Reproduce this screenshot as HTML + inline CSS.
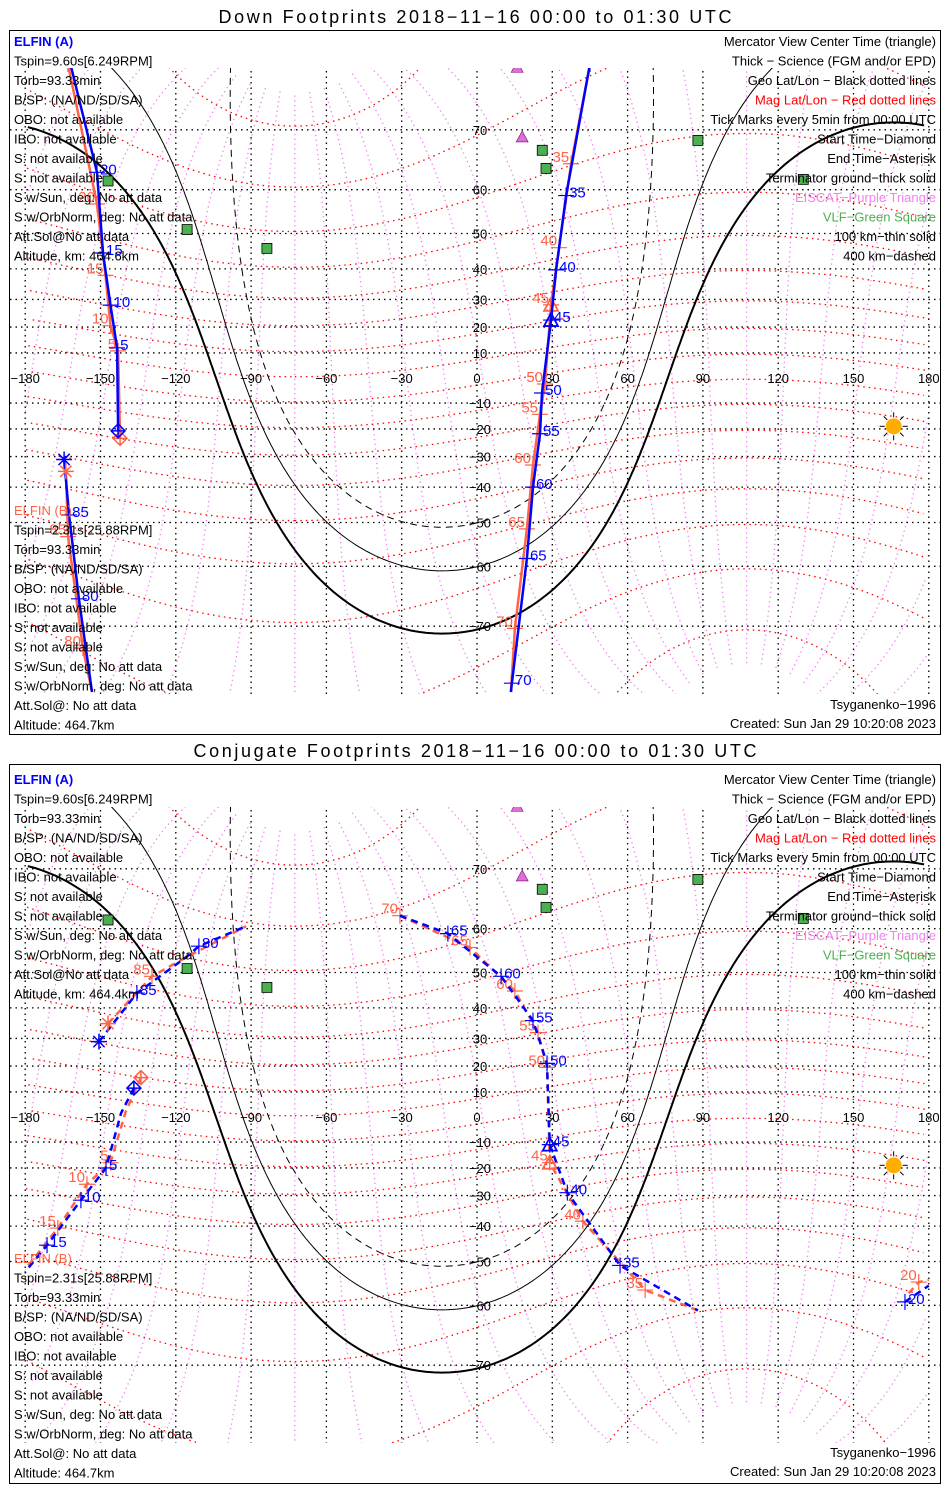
<!DOCTYPE html>
<html><head><meta charset="utf-8"><style>
html,body{margin:0;padding:0;background:#fff}
svg{display:block;font-family:"Liberation Sans",sans-serif}
</style></head><body>
<svg id="chart" xmlns="http://www.w3.org/2000/svg" width="950" height="1500" viewBox="0 0 950 1500">
<defs>
<clipPath id="clipTop"><rect x="10" y="68" width="930" height="626"/></clipPath>
<clipPath id="clipBot"><rect x="10" y="807" width="930" height="636"/></clipPath>
</defs>
<rect width="950" height="1500" fill="#fff"/>
<text x="475" y="23" text-anchor="middle" font-size="18" textLength="513" lengthAdjust="spacing">Down Footprints 2018−11−16 00:00 to 01:30 UTC</text>
<rect x="9.5" y="30.5" width="931" height="704" fill="none" stroke="#000"/>
<text x="475" y="757" text-anchor="middle" font-size="18" textLength="563" lengthAdjust="spacing">Conjugate Footprints 2018−11−16 00:00 to 01:30 UTC</text>
<rect x="9.5" y="764.5" width="931" height="719" fill="none" stroke="#000"/>
<g id="topMap" clip-path="url(#clipTop)"></g>
<g id="botMap" clip-path="url(#clipBot)"></g>
<g id="texts" font-size="13"></g>
</svg>
<script>
// ---- data ----
const lonTicks = [-180,-150,-120,-90,-60,-30,0,30,60,90,120,150,180];
const lonTickLabels = ["−180","−150","−120","−90","−60","−30","0","30","60","90","120","150","180"];
const latTicks = [-70,-60,-50,-40,-30,-20,-10,10,20,30,40,50,60,70];
const magLatLevels = [-80,-70,-60,-50,-40,-30,-20,-10,0,10,20,30,40,50,60,70,80];
const magLonLevels = [0,15,30,45,60,75,90,105,120,135,150,165,180,195,210,225,240,255,270,285,300,315,330,345];
const magPole = [80.5, -72.6];
const sunPos = [166, -19];
const termDepths = [0, 10.1, 19.8];
const eiscatLon = [16, 18];
const eiscatLat = [77, 69];
const vlfLon = [-147, -115.5, -83.7, 26, 27.5, 88, 130];
const vlfLat = [61.7, 51, 46, 67, 64, 68.5, 62];

const downA_lon = [-143,-143.4,-146,-149,-151.4,-162,NaN,45,35.5,31.5,29.5,25.9,25.1,22.3,19.9,13.9,13.5,NaN,-164.5,-162.5,-158.6,-153.4];
const downA_lat = [-20.7,12,28,44.7,63.3,77.3,NaN,77.3,58.8,39.7,22.6,-6,-21.8,-40,-58.4,-76.5,-77.3,NaN,-31,-48,-65.9,-77.3];
const downA_lab = ['','5','10','15','20','','','30','35','40','45','50','55','60','65','70','','','','85','80',''];
const downB_lon = [-142.2,-143,-146,-148,-151.4,-163,NaN,45,37.5,32.7,29.5,27.1,25.1,22.3,19.9,15.1,13.5,NaN,-163.8,-162.9,-157,-153.4];
const downB_lat = [-23.5,10.8,20.5,38,57,77.3,NaN,77.3,64.8,46.2,28.1,-2.4,-14.4,-32.9,-51.6,-70.3,-77.3,NaN,-35,-53.5,-72.8,-77.3];
const downB_lab = ['','5','10','15','20','25','','','35','40','45','50','55','60','65','70','','','','85','80',''];

const conjA_lon = [-136.7,-141.8,-147.8,-157.8,-171.3,-180,NaN,170.5,180,NaN,-150.6,-135.5,-116,-110.8,-92,NaN,-30.7,-11.6,9.6,22.3,27.9,29,36,57,88];
const conjA_lat = [11.5,1.6,-20,-31.6,-45.6,-52.6,NaN,-59.3,-55.8,NaN,28.9,44.4,53.7,56.3,60.5,NaN,62.5,59,49,36,21,-11,-29,-51,-61];
const conjA_lab = ['','','5','10','15','','','20','','','','85','','80','','','','65','60','55','50','45','40','35',''];
const conjB_lon = [-133.9,-140,-146,-155.4,-167,-180,NaN,172,176,180,NaN,-147,-129.5,-116,-92,NaN,-30.7,-2.8,15.1,24.3,27.9,29,42.2,67,88];
const conjB_lat = [15.6,2,-18,-26,-40.6,-52,NaN,-57.5,-55,-54.5,NaN,35,49,53.7,60.5,NaN,62.5,56,45,32,19.5,-18,-38.5,-56.8,-61];
const conjB_lab = ['','','5','10','15','','','','20','','','','85','','','','70','65','60','55','50','45','40','35',''];

// ---- helpers ----
const NS = "http://www.w3.org/2000/svg";
function mk(tag, attrs, parent){ const e=document.createElementNS(NS,tag); for(const k in attrs) e.setAttribute(k,attrs[k]); if(parent) parent.appendChild(e); return e; }
const D = Math.PI/180;
function X(lon){ return 477 + 2.51*lon; }
function Y(lat, oy){ const l=Math.max(-85,Math.min(85,lat)); return oy + 378 - 143*Math.log(Math.tan(Math.PI/4 + l*D/2)); }
function polyPaths(pts, oy){ // pts: [lon,lat] list, break on wrap
  let segs=[], cur=[], prev=null;
  for(const p of pts){
    if(p===null || isNaN(p[0])){ if(cur.length) segs.push(cur); cur=[]; prev=null; continue; }
    if(prev && Math.abs(p[0]-prev[0])>180){ if(cur.length) segs.push(cur); cur=[]; }
    cur.push(X(p[0]).toFixed(1)+','+Y(p[1],oy).toFixed(1)); prev=p;
  }
  if(cur.length) segs.push(cur);
  return segs.map(s=>'M'+s.join('L')).join(' ');
}
function mag2geo(mlat, mlon){
  const th=(90-magPole[0])*D, ph=magPole[1]*D;
  const x=Math.cos(mlat*D)*Math.cos(mlon*D), y=Math.cos(mlat*D)*Math.sin(mlon*D), z=Math.sin(mlat*D);
  const x1=x*Math.cos(th)+z*Math.sin(th), z1=-x*Math.sin(th)+z*Math.cos(th);
  const x2=x1*Math.cos(ph)-y*Math.sin(ph), y2=x1*Math.sin(ph)+y*Math.cos(ph);
  return [Math.atan2(y2,x2)/D, Math.asin(Math.max(-1,Math.min(1,z1)))/D];
}
function dest(lat, lon, dist, az){
  const p1=lat*D, l1=lon*D, d=dist*D, a=az*D;
  const p2=Math.asin(Math.sin(p1)*Math.cos(d)+Math.cos(p1)*Math.sin(d)*Math.cos(a));
  let l2=l1+Math.atan2(Math.sin(a)*Math.sin(d)*Math.cos(p1), Math.cos(d)-Math.sin(p1)*Math.sin(p2));
  let lon2=l2/D; while(lon2>180) lon2-=360; while(lon2<-180) lon2+=360;
  return [lon2, p2/D];
}

function drawMap(g, oy, dashed, A_lon, A_lat, A_lab, B_lon, B_lat, B_lab){
  // mag lon lines (violet)
  for(const ml of magLonLevels){
    const pts=[]; for(let m=-84;m<=84;m+=2) pts.push(mag2geo(m, ml));
    const e=mk('path',{d:polyPaths(pts,oy),fill:'none',stroke:'#ee82ee','stroke-width':1.3,'stroke-dasharray':'1.3 3.5'},g);
    
    
  }
  // mag lat lines (red)
  for(const m of magLatLevels){
    const pts=[]; for(let ml=0;ml<=360;ml+=3) pts.push(mag2geo(m, ml));
    const e=mk('path',{d:polyPaths(pts,oy),fill:'none',stroke:'#ff0000','stroke-width':1.3,'stroke-dasharray':'1.5 4'},g);
    
    
  }
  // geo grid
  for(const lo of lonTicks){
    const e=mk('line',{x1:X(lo),x2:X(lo),y1:oy+60,y2:oy+760,stroke:'#000','stroke-width':1.3,'stroke-dasharray':'1.5 4'},g);
    
    
  }
  for(const la of latTicks){
    const e=mk('line',{x1:10,x2:940,y1:Y(la,oy),y2:Y(la,oy),stroke:'#000','stroke-width':1.3,'stroke-dasharray':'1.5 4'},g);
    
    
  }
  // terminators
  termDepths.forEach((dp,i)=>{
    const pts=[]; for(let az=0;az<=360;az+=1) pts.push(dest(sunPos[1],sunPos[0],90+dp,az));
    const e=mk('path',{d:polyPaths(pts,oy),fill:'none',stroke:'#000','stroke-width':i===0?2:1,'stroke-dasharray':i===2?'7 5':'none'},g);
    
    
  });
  // axis labels
  lonTicks.forEach((lo,i)=>{
    const t=mk('text',{x:X(lo),y:Y(0,oy)+5,'text-anchor':'middle','font-size':13},g); t.textContent=lonTickLabels[i];
    
    
  });
  latTicks.forEach(la=>{
    const t=mk('text',{x:480,y:Y(la,oy)+5,'text-anchor':'middle','font-size':13},g); t.textContent=(la<0?'−':'')+Math.abs(la);
    
    
  });
  // stations
  eiscatLon.forEach((lo,i)=>{
    const x=X(lo), y=Y(eiscatLat[i],oy);
    const e=mk('path',{d:`M${x-6},${y+5}L${x},${y-6}L${x+6},${y+5}Z`,fill:'#da70d6',stroke:'#800080','stroke-width':0.6},g);
    
    
  });
  vlfLon.forEach((lo,i)=>{
    const e=mk('rect',{x:X(lo)-5,y:Y(vlfLat[i],oy)-5,width:10,height:10,fill:'#4caf50',stroke:'#000','stroke-width':0.8},g);
    
    
  });
  // sun
  const sx=X(sunPos[0]), sy=Y(sunPos[1],oy);
  for(let a=0;a<360;a+=45){
    const e=mk('line',{x1:sx+9*Math.cos(a*D),y1:sy+9*Math.sin(a*D),x2:sx+14*Math.cos(a*D),y2:sy+14*Math.sin(a*D),stroke:'#000','stroke-width':1},g);
    
    
  }
  const sun=mk('circle',{cx:sx,cy:sy,r:8,fill:'#ffae00'},g);
  
  
  // tracks
  drawTrack(g,oy,B_lon,B_lat,B_lab,'#ff6347','end',dashed,'elfin-b');
  drawTrack(g,oy,A_lon,A_lat,A_lab,'#0000ff','start',dashed,'elfin-a');
}
function drawTrack(g,oy,lons,lats,labs,col,anchor,dashed,nm){
  const pts=lons.map((lo,i)=>[lo,lats[i]]);
  const e=mk('path',{d:polyPaths(pts,oy),fill:'none',stroke:col,'stroke-width':2.5,'stroke-dasharray':dashed?'7 5':'none'},g);
  
  
  let first=true;
  pts.forEach((p,i)=>{
    if(isNaN(p[0])) return;
    const x=X(p[0]), y=Y(p[1],oy);
    if(first){ first=false;
      const d=mk('path',{d:`M${x},${y-7}L${x+7},${y}L${x},${y+7}L${x-7},${y}Z M${x-7},${y}H${x+7} M${x},${y-7}V${y+7}`,fill:'none',stroke:col,'stroke-width':1.5},g);
      
      
    }
    if(labs[i]==='45'){
      const t=mk('path',{d:`M${x-7},${y+6}L${x},${y-7}L${x+7},${y+6}Z`,fill:'none',stroke:col,'stroke-width':1.8},g);
      
      
    }
    if(labs[i]){
      const c=mk('path',{d:`M${x-8},${y}H${x+8}M${x},${y-8}V${y+8}`,stroke:col,'stroke-width':1.2},g);
      
      
      const t=mk('text',{x:anchor==='start'?x+3:x-2,y:anchor==='start'?y+2:y-2,'text-anchor':anchor,'font-size':15,fill:col},g);
      t.textContent=labs[i];
      
      
    }
  });
  // end asterisk: point before a NaN break that begins a labelled run ending at asterisk
}
function asterisk(g,lon,lat,oy,col,nm){
  const x=X(lon), y=Y(lat,oy); let d='';
  for(let a=0;a<180;a+=45){ d+=`M${x-8*Math.cos(a*D)},${y-8*Math.sin(a*D)}L${x+8*Math.cos(a*D)},${y+8*Math.sin(a*D)}`; }
  const e=mk('path',{d:d,stroke:col,'stroke-width':1.5},g);
  
  
}

const gt=document.getElementById('topMap'), gb=document.getElementById('botMap');
drawMap(gt,0,false,downA_lon,downA_lat,downA_lab,downB_lon,downB_lat,downB_lab);
asterisk(gt,downA_lon[18],downA_lat[18],0,'#0000ff','elfin-a-end-asterisk');
asterisk(gt,downB_lon[18],downB_lat[18],0,'#ff6347','elfin-b-end-asterisk');
drawMap(gb,739,true,conjA_lon,conjA_lat,conjA_lab,conjB_lon,conjB_lat,conjB_lab);
asterisk(gb,conjA_lon[10],conjA_lat[10],739,'#0000ff','elfin-a-end-asterisk');
asterisk(gb,conjB_lon[11],conjB_lat[11],739,'#ff6347','elfin-b-end-asterisk');

// ---- text blocks ----
const leftA = ["ELFIN (A)","Tspin=9.60s[6.249RPM]","Torb=93.33min","B/SP: (NA/ND/SD/SA)","OBO: not available","IBO: not available","S: not available","S: not available","S w/Sun, deg: No att data","S w/OrbNorm, deg: No att data","Att.Sol@No att data"];
const leftB = ["ELFIN (B)","Tspin=2.31s[25.88RPM]","Torb=93.33min","B/SP: (NA/ND/SD/SA)","OBO: not available","IBO: not available","S: not available","S: not available","S w/Sun, deg: No att data","S w/OrbNorm, deg: No att data","Att.Sol@: No att data","Altitude: 464.7km"];
const rightLeg = ["Mercator View Center Time (triangle)","Thick − Science (FGM and/or EPD)","Geo Lat/Lon − Black dotted lines","Mag Lat/Lon − Red dotted lines","Tick Marks every 5min from 00:00 UTC","Start Time−Diamond","End Time−Asterisk","Terminator ground−thick solid","EISCAT−Purple Triangle","VLF−Green Square","100 km−thin solid","400 km−dashed"];
const rightCol = ['#000','#000','#000','#ff0000','#000','#000','#000','#000','#ee82ee','#4caf50','#000','#000'];
const gT=document.getElementById('texts');
function txt(s,x,y,anchor,col,bold,nm){
  const t=mk('text',{x:x,y:y,'text-anchor':anchor,fill:col,'font-weight':bold?'bold':'normal'},gT);
  t.textContent=s;
  
  
}
[[0,"464.6km"],[738,"464.4km"]].forEach(([o,alt])=>{
  const la=leftA.concat(["Altitude, km: "+alt]);
  la.forEach((s,i)=>txt(s,14,46+o+i*19.5,'start',i===0?'#0000ff':'#000',i===0,i===0?'elfin-a-title':'elfin-a-info'));
  rightLeg.forEach((s,i)=>txt(s,936,46+o+i*19.5,'end',rightCol[i],false,'legend-entry'));
});
[0,748].forEach(o=>{
  leftB.forEach((s,i)=>txt(s,14,515+o+i*19.5,'start',i===0?'#ff6347':'#000',false,i===0?'elfin-b-title':'elfin-b-info'));
  txt("Tsyganenko−1996",936,709+o,'end','#000',false,'model-label');
  txt("Created: Sun Jan 29 10:20:08 2023",936,728+o,'end','#000',false,'created-timestamp');
});
</script>
</body></html>
